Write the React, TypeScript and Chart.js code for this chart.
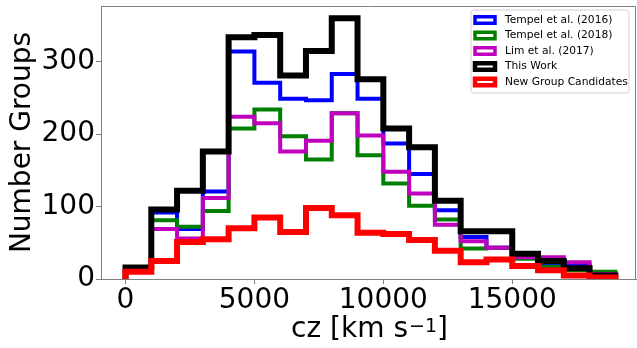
import React, { useEffect, useRef } from "react";
import { Chart, registerables } from "chart.js";

Chart.register(...registerables);

const binEdges = [0, 1000, 2000, 3000, 4000, 5000, 6000, 7000, 8000, 9000, 10000, 11000, 12000, 13000, 14000, 15000, 16000, 17000, 18000, 19000];
const tempel2016 = [12, 92, 69, 121, 314, 271, 249, 247, 283, 249, 187, 145, 95, 58, 43, 30, 21, 19, 8];
const tempel2018 = [10, 81, 72, 94, 208, 234, 197, 165, 229, 171, 132, 101, 82, 42, 43, 28, 17, 12, 10];
const lim2017 = [10, 69, 56, 112, 224, 215, 176, 191, 229, 198, 148, 118, 75, 52, 43, 30, 30, 23, 7];
const thisWork = [16, 96, 122, 176, 334, 337, 281, 315, 360, 276, 208, 182, 108, 66, 66, 35, 25, 15, 5];
const newGroups = [10, 25, 51, 55, 70, 85, 65, 98, 88, 64, 62, 54, 39, 23, 27, 18, 12, 5, 2];

const seriesLabels = ["Tempel et al. (2016)", "Tempel et al. (2018)", "Lim et al. (2017)", "This Work", "New Group Candidates"];
const seriesColors = ["#0000ff", "#008000", "#bf00bf", "#000000", "#ff0000"];
const seriesWidths = [4, 4, 4, 6, 6];
const legendWidths = [3.5, 3.5, 3.5, 4.5, 4.5];
const xTicks = [0, 5000, 10000, 15000];
const yTicks = [0, 100, 200, 300];

const FONT = "'DejaVu Sans', sans-serif";

function stepPoints(values: number[]) {
  const pts: { x: number; y: number }[] = [{ x: binEdges[0], y: 0 }];
  values.forEach((v, i) => {
    pts.push({ x: binEdges[i], y: v });
    pts.push({ x: binEdges[i + 1], y: v });
  });
  pts.push({ x: binEdges[binEdges.length - 1], y: 0 });
  return pts;
}

const framePlugin = {
  id: "frame",
  afterDatasetsDraw(chart: any) {
    const { ctx, chartArea } = chart;
    ctx.save();
    ctx.strokeStyle = "#808080";
    ctx.lineWidth = 1;
    ctx.beginPath();
    ctx.moveTo(chartArea.left + 0.5, chartArea.bottom + 0.5);
    ctx.lineTo(chartArea.left + 0.5, chartArea.top + 0.5);
    ctx.lineTo(chartArea.right - 0.5, chartArea.top + 0.5);
    ctx.lineTo(chartArea.right - 0.5, chartArea.bottom + 0.5);
    ctx.stroke();
    ctx.restore();
  },
  afterDraw(chart: any) {
    const { ctx } = chart;
    // legend
    ctx.save();
    const lx = 471, ly = 10, lw = 158, lh = 83, r = 3;
    ctx.beginPath();
    ctx.moveTo(lx + r, ly);
    ctx.lineTo(lx + lw - r, ly);
    ctx.quadraticCurveTo(lx + lw, ly, lx + lw, ly + r);
    ctx.lineTo(lx + lw, ly + lh - r);
    ctx.quadraticCurveTo(lx + lw, ly + lh, lx + lw - r, ly + lh);
    ctx.lineTo(lx + r, ly + lh);
    ctx.quadraticCurveTo(lx, ly + lh, lx, ly + lh - r);
    ctx.lineTo(lx, ly + r);
    ctx.quadraticCurveTo(lx, ly, lx + r, ly);
    ctx.closePath();
    ctx.fillStyle = "rgba(255,255,255,0.8)";
    ctx.fill();
    ctx.strokeStyle = "#d0d0d0";
    ctx.lineWidth = 1;
    ctx.stroke();
    chart.data.datasets.forEach((ds: any, i: number) => {
      const cy = 20 + i * 15.5;
      ctx.fillStyle = "#ffffff";
      ctx.fillRect(475, cy - 3.25, 20, 6.5);
      ctx.strokeStyle = ds.borderColor;
      ctx.lineWidth = legendWidths[i];
      ctx.lineJoin = "miter";
      ctx.strokeRect(475, cy - 3.25, 20, 6.5);
      ctx.fillStyle = "#000000";
      ctx.font = `10.7px ${FONT}`;
      ctx.textBaseline = "middle";
      ctx.textAlign = "left";
      ctx.fillText(ds.label, 505, cy);
    });
    // x axis title with superscript
    const main = `28px ${FONT}`;
    const sup = `19px ${FONT}`;
    const p1 = "cz [km s";
    const p2 = "\u22121";
    const p3 = "]";
    ctx.font = main;
    const w1 = ctx.measureText(p1).width;
    const w3 = ctx.measureText(p3).width;
    ctx.font = sup;
    const w2 = ctx.measureText(p2).width;
    const total = w1 + w2 + w3 + 1;
    let x = 369.5 - total / 2;
    const base = 336.5;
    ctx.fillStyle = "#000000";
    ctx.textBaseline = "alphabetic";
    ctx.textAlign = "left";
    ctx.font = main;
    ctx.fillText(p1, x, base);
    x += w1 + 1;
    ctx.font = sup;
    ctx.fillText(p2, x, base - 5);
    x += w2;
    ctx.font = main;
    ctx.fillText(p3, x, base);
    ctx.restore();
  },
};

export default function App() {
  const ref = useRef<HTMLCanvasElement>(null);
  useEffect(() => {
    if (!ref.current) return;
    const all = [tempel2016, tempel2018, lim2017, thisWork, newGroups];
    const chart = new Chart(ref.current, {
      type: "line",
      data: {
        datasets: all.map((vals, i) => ({
          label: seriesLabels[i],
          data: stepPoints(vals),
          borderColor: seriesColors[i],
          backgroundColor: "#ffffff",
          borderWidth: seriesWidths[i],
          pointRadius: 0,
          fill: false,
          tension: 0,
          borderJoinStyle: "miter" as const,
          borderCapStyle: "butt" as const,
          order: all.length - i,
        })),
      },
      options: {
        responsive: false,
        animation: false,
        devicePixelRatio: 1,
        layout: { padding: { top: 6, right: 1, left: 0, bottom: 0 } },
        plugins: { legend: { display: false }, tooltip: { enabled: false } },
        scales: {
          x: {
            type: "linear",
            min: -950,
            max: 19800,
            afterBuildTicks: (s: any) => {
              s.ticks = xTicks.map((v) => ({ value: v }));
            },
            afterFit: (s: any) => {
              s.height = 69;
              s.paddingLeft = 0;
              s.paddingRight = 0;
            },
            ticks: {
              font: { family: FONT, size: 28 },
              color: "#000",
              padding: 0,
              maxRotation: 0,
              callback: (v: any) => String(v),
            },
            grid: { drawOnChartArea: false, drawTicks: true, tickLength: 5, color: "#808080" },
            border: { color: "#808080" },
          },
          y: {
            type: "linear",
            min: 0,
            max: 377,
            afterBuildTicks: (s: any) => {
              s.ticks = yTicks.map((v) => ({ value: v }));
            },
            afterFit: (s: any) => {
              s.width = 101;
              s.paddingTop = 0;
              s.paddingBottom = 0;
            },
            ticks: {
              font: { family: FONT, size: 28 },
              color: "#000",
              padding: 1,
              callback: (v: any) => String(v),
            },
            grid: { drawOnChartArea: false, drawTicks: true, tickLength: 5, color: "#808080" },
            border: { color: "#808080" },
            title: {
              display: true,
              text: "Number Groups",
              font: { family: FONT, size: 28 },
              color: "#000",
              padding: { top: 6, bottom: 0 },
            },
          },
        },
      },
      plugins: [framePlugin],
    });
    return () => chart.destroy();
  }, []);
  return (
    <div style={{ position: "fixed", left: 0, top: 0, width: 637, height: 348, background: "#fff" }}>
      <canvas ref={ref} width={637} height={348} style={{ display: "block" }} />
    </div>
  );
}
